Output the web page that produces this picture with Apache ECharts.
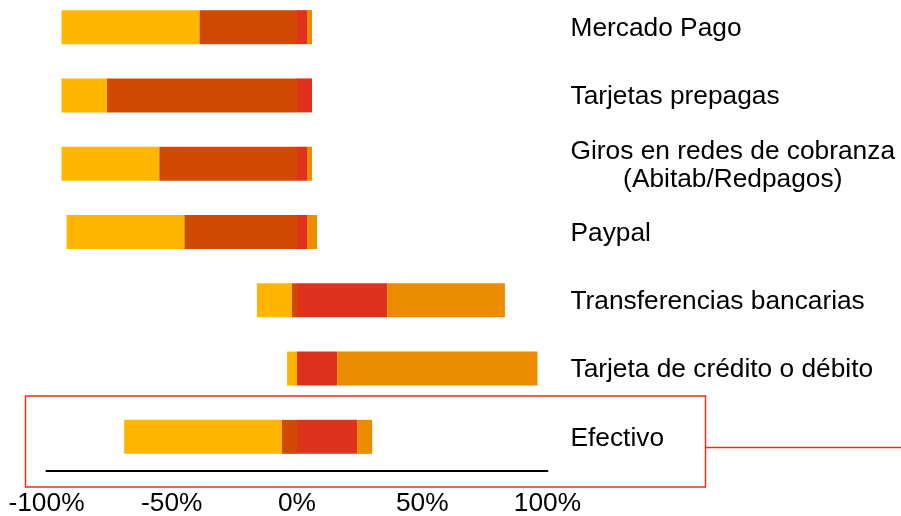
<!DOCTYPE html>
<html>
<head>
<meta charset="utf-8">
<script src="https://cdn.jsdelivr.net/npm/echarts@6/dist/echarts.min.js"></script>
<style>
  html, body { margin: 0; padding: 0; background: #fff; }
  #chart { width: 901px; height: 516px; }
</style>
</head>
<body>
<div id="chart"></div>
<script>
// categorias, de arriba hacia abajo
const categories = [
  'Mercado Pago',
  'Tarjetas prepagas',
  'Giros en redes de cobranza\n(Abitab/Redpagos)',
  'Paypal',
  'Transferencias bancarias',
  'Tarjeta de crédito o débito',
  'Efectivo'
];

// lado negativo (se dibuja hacia la izquierda)
const muyNeg = [55, 18, 39, 47, 14, 4, 63];   // amarillo, extremo
const neg = [39, 76, 55, 45, 2, 0, 6];        // naranja oscuro, junto al 0
// lado positivo
const pos = [4, 6, 4, 4, 36, 16, 24];         // rojo, junto al 0
const muyPos = [2, 0, 2, 4, 47, 80, 6];       // naranja, extremo

const xTicks = [-100, -50, 0, 50, 100];

const font = 'Liberation Sans, Arial, sans-serif';
const fs = 26.3;

const mychart = echarts.init(document.getElementById('chart'));

const barSeries = (name, data, color, sign) => ({
  name: name,
  type: 'bar',
  stack: 'total',
  barWidth: 34,
  data: data.map(v => sign * v),
  itemStyle: { color: color },
  emphasis: { disabled: true }
});

mychart.setOption({
  animation: false,
  grid: { left: 46.5, width: 501, top: -7, height: 478, outerBoundsMode: 'none' },
  xAxis: {
    type: 'value',
    min: xTicks[0],
    max: xTicks[xTicks.length - 1],
    interval: 50,
    axisLine: { show: true, lineStyle: { color: '#000', width: 2 } },
    axisTick: { show: false },
    splitLine: { show: false },
    axisLabel: {
      margin: 20,
      color: '#000',
      fontSize: fs,
      fontFamily: font,
      formatter: '{value}%'
    }
  },
  yAxis: {
    type: 'category',
    inverse: true,
    position: 'right',
    data: categories,
    axisLine: { show: false },
    axisTick: { show: false },
    axisLabel: {
      margin: 23,
      align: 'left',
      color: '#000',
      fontSize: fs,
      fontFamily: font,
      padding: [3, 0, 0, 0],
      formatter: (val) => {
        if (val.indexOf('\n') < 0) return val;
        const parts = val.split('\n');
        return '{a|' + parts[0] + '}\n{b|' + parts[1] + '}';
      },
      rich: {
        a: { fontSize: fs, fontFamily: font, color: '#000', lineHeight: 30, padding: [4, 0, 0, 0] },
        b: { fontSize: fs, fontFamily: font, color: '#000', lineHeight: 30, align: 'center' }
      }
    }
  },
  series: [
    barSeries('neg', neg, '#D04A02', -1),
    barSeries('muyNeg', muyNeg, '#FFB600', -1),
    barSeries('pos', pos, '#E0301E', 1),
    barSeries('muyPos', muyPos, '#EB8C00', 1)
  ],
  graphic: [
    {
      type: 'rect',
      shape: { x: 25.5, y: 396, width: 680, height: 91 },
      style: { fill: null, stroke: '#E0301E', lineWidth: 1.5 }
    },
    {
      type: 'line',
      shape: { x1: 706, y1: 447.5, x2: 901, y2: 447.5 },
      style: { stroke: '#E0301E', lineWidth: 1.5 }
    }
  ]
});
</script>
</body>
</html>
